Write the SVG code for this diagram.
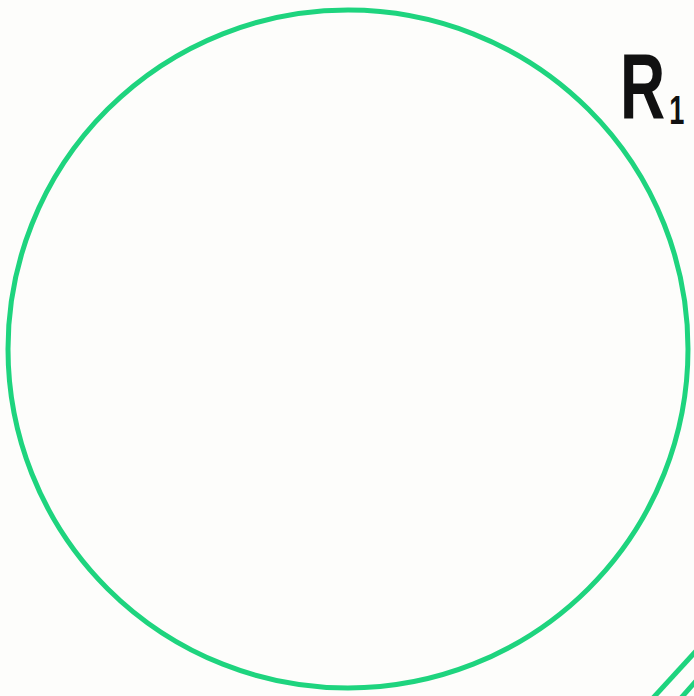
<svg xmlns="http://www.w3.org/2000/svg" width="694" height="696" viewBox="0 0 694 696">
<style>
.ink{fill:none;stroke:#1ed47e;stroke-width:5;stroke-linecap:round}
.lbl{font-family:"Liberation Sans",Arial,sans-serif;fill:#111;font-weight:bold}
</style>
<rect width="694" height="696" fill="#fdfdfb"/>
<g id="region-R1">
<ellipse class="ink" cx="348" cy="349" rx="340" ry="339"/>
<text class="lbl" transform="translate(620,118) scale(0.68,1)" x="0" y="0" font-size="92">R<tspan font-size="40" dx="6" dy="6">1</tspan></text>
</g>
<g id="edge-lines">
<line class="ink" x1="653" y1="698" x2="696" y2="651"/>
<line class="ink" x1="681" y1="698" x2="696" y2="681"/>
</g>
</svg>
